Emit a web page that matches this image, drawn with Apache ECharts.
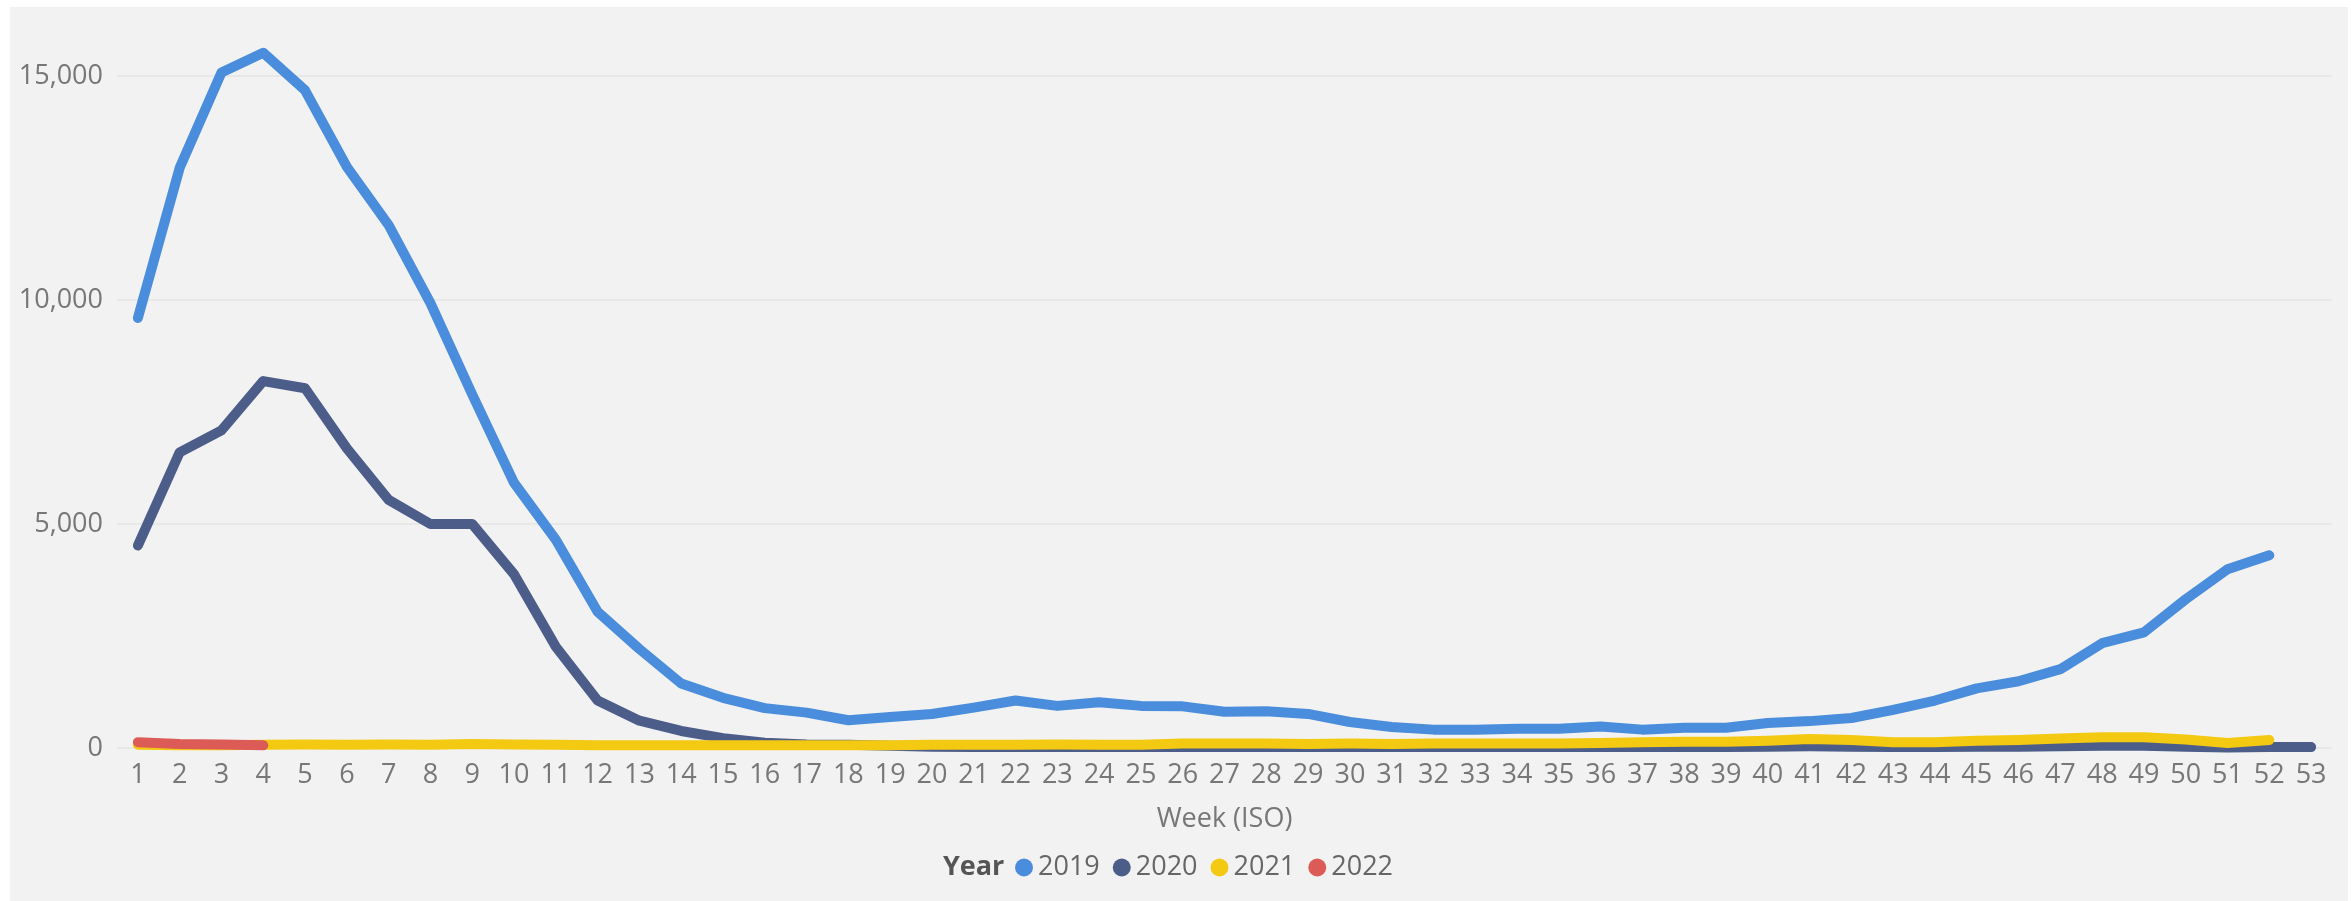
<!DOCTYPE html>
<html>
<head>
<meta charset="utf-8">
<title>Weekly cases by ISO week</title>
<script src="https://cdn.jsdelivr.net/npm/echarts@6/dist/echarts.min.js"></script>
<style>
  html, body { margin: 0; padding: 0; background: #ffffff; width: 2351px; height: 901px; overflow: hidden; }
  #chart { position: absolute; left: 10px; top: 7px; width: 2338px; height: 894px; background: #f2f2f2; }
</style>
</head>
<body>
<div id="chart"></div>
<script>
// ISO week tick labels
const weeks = ['1','2','3','4','5','6','7','8','9','10','11','12','13','14','15','16','17','18','19','20',
  '21','22','23','24','25','26','27','28','29','30','31','32','33','34','35','36','37','38','39','40',
  '41','42','43','44','45','46','47','48','49','50','51','52','53'];

// Weekly counts per year
const cases2019 = [9600, 12950, 15080, 15520, 14680, 12970, 11670, 9930, 7890, 5920,
  4650, 3040, 2210, 1440, 1120, 890, 790, 620, 690, 760,
  900, 1060, 940, 1020, 940, 930, 810, 820, 760, 580,
  470, 410, 410, 430, 430, 480, 410, 450, 450, 560,
  600, 670, 850, 1060, 1330, 1490, 1760, 2340, 2580, 3320,
  3990, 4300];

const cases2020 = [4520, 6600, 7090, 8190, 8030, 6690, 5540, 5000, 5000, 3880,
  2260, 1060, 610, 380, 220, 120, 80, 70, 50, 30,
  20, 20, 20, 20, 20, 20, 20, 20, 20, 20,
  20, 20, 20, 20, 20, 20, 20, 20, 20, 30,
  40, 30, 20, 20, 30, 30, 40, 50, 50, 30,
  10, 20, 20];

const cases2021 = [70, 60, 60, 70, 80, 70, 80, 70, 90, 80,
  70, 60, 60, 60, 60, 60, 60, 60, 60, 70,
  70, 70, 80, 70, 70, 100, 100, 100, 90, 100,
  90, 100, 100, 100, 100, 110, 130, 140, 140, 160,
  200, 180, 130, 130, 160, 180, 210, 240, 240, 190,
  110, 180];

const cases2022 = [130, 90, 80, 60];

const years = ['2019', '2020', '2021', '2022'];
const yearColors = ['#4a8ddc', '#4c5d8a', '#f3c911', '#dc5b57'];
const yearValues = [cases2019, cases2020, cases2021, cases2022];

const FONT = '"Open Sans", "Noto Sans", sans-serif';

const chart = echarts.init(document.getElementById('chart'), null, { renderer: 'canvas' });

chart.setOption({
  backgroundColor: '#f2f2f2',
  animation: false,
  color: yearColors,
  grid: { left: 107, right: 16, top: 69, bottom: 153, containLabel: false },
  xAxis: {
    type: 'category',
    data: weeks,
    boundaryGap: true,
    name: 'Week (ISO)',
    nameLocation: 'middle',
    nameGap: 58,
    nameTextStyle: { color: '#777777', fontSize: 27, fontFamily: FONT },
    axisLine: { show: false },
    axisTick: { show: false },
    axisLabel: { interval: 0, margin: 14, color: '#777777', fontSize: 27, fontFamily: FONT }
  },
  yAxis: {
    type: 'value',
    min: 0,
    max: 15000,
    interval: 5000,
    axisLine: { show: false },
    axisTick: { show: false },
    axisLabel: {
      margin: 14, color: '#777777', fontSize: 27, fontFamily: FONT,
      formatter: v => v.toLocaleString('en-US')
    },
    splitLine: { lineStyle: { color: '#e8e8e8', width: 2 } }
  },
  legend: {
    data: years,
    left: 1005,
    top: 847,
    padding: 0,
    icon: 'circle',
    itemWidth: 18,
    itemHeight: 18,
    itemGap: 13,
    textStyle: { color: '#666666', fontSize: 27, fontFamily: FONT }
  },
  graphic: [{
    type: 'text',
    left: 933,
    top: 847,
    style: { text: 'Year', fill: '#555555', fontSize: 27, fontWeight: 'bold', fontFamily: FONT }
  }],
  series: years.map((y, i) => ({
    name: y,
    type: 'line',
    data: yearValues[i],
    showSymbol: false,
    symbol: 'circle',
    clip: false,
    lineStyle: { width: 10, color: yearColors[i], cap: 'round', join: 'round' },
    itemStyle: { color: yearColors[i] },
    emphasis: { disabled: true }
  }))
});
</script>
</body>
</html>
